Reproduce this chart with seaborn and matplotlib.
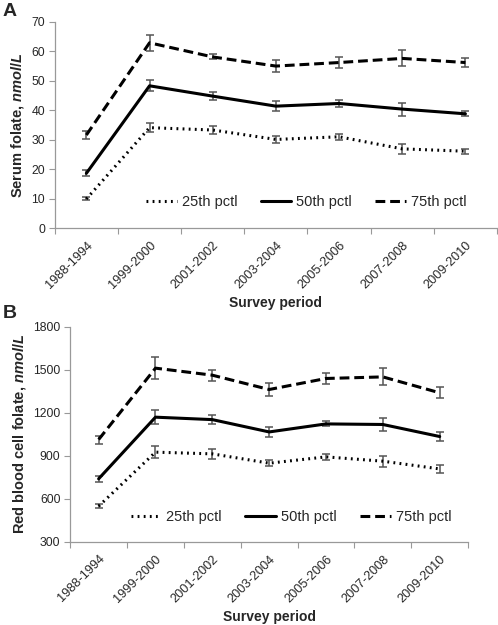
import numpy as np
import pandas as pd
import matplotlib
matplotlib.use("Agg")
import matplotlib.pyplot as plt
import matplotlib.transforms as mtransforms
import seaborn as sns

periods = ["1988-1994", "1999-2000", "2001-2002", "2003-2004", "2005-2006", "2007-2008", "2009-2010"]
series = ["25th pctl", "50th pctl", "75th pctl"]

serum_p25 = [9.9, 34.1, 33.3, 30.1, 31.0, 26.9, 26.1]
serum_p50 = [18.6, 48.3, 44.8, 41.4, 42.3, 40.4, 38.8]
serum_p75 = [31.6, 62.9, 58.1, 55.0, 56.2, 57.6, 56.2]
serum_e25 = [0.5, 1.5, 1.2, 1.3, 1.1, 1.7, 0.8]
serum_e50 = [1.0, 1.9, 1.35, 1.6, 1.3, 2.2, 0.9]
serum_e75 = [1.5, 2.7, 0.85, 1.9, 2.0, 2.7, 1.4]

rbc_p25 = [549, 926, 914, 849, 893, 863, 809]
rbc_p50 = [740, 1170, 1153, 1067, 1123, 1119, 1035]
rbc_p75 = [1014, 1512, 1463, 1363, 1440, 1451, 1340]
rbc_e25 = [12, 40, 34, 22, 19, 38, 27]
rbc_e50 = [20, 49, 33, 35, 17, 48, 33]
rbc_e75 = [28, 75, 38, 42, 38, 60, 38]

sns.set_theme(style="white")
plt.rcParams["font.family"] = ["Liberation Sans", "DejaVu Sans"]
plt.rcParams["mathtext.fontset"] = "custom"
plt.rcParams["mathtext.it"] = "Liberation Sans:italic:bold"
plt.rcParams["mathtext.rm"] = "Liberation Sans:bold"

def make_df(vals, errs):
    rows = []
    for s, v, e in zip(series, vals, errs):
        for p, vi, ei in zip(periods, v, e):
            rows.append({"period": p, "value": vi, "err": ei, "series": s})
    return pd.DataFrame(rows)

dfA = make_df([serum_p25, serum_p50, serum_p75], [serum_e25, serum_e50, serum_e75])
dfB = make_df([rbc_p25, rbc_p50, rbc_p75], [rbc_e25, rbc_e50, rbc_e75])

fig = plt.figure(figsize=(4.98, 6.25), dpi=100)
axA = fig.add_axes([0.110, 0.635, 0.888, 0.330])
axB = fig.add_axes([0.141, 0.133, 0.799, 0.344])

dashes = {"25th pctl": (0.6, 1.4), "50th pctl": "", "75th pctl": (3.2, 1.6)}
palette = {s: "black" for s in series}

def draw(ax, df, ylim, yticks, ylabel, legy, legx, ylabelpad):
    sns.lineplot(data=df, x="period", y="value", hue="series", style="series",
                 dashes=dashes, palette=palette, linewidth=2.2, ax=ax, sort=False,
                 legend=True)
    for s in series:
        d = df[df.series == s]
        ax.errorbar(np.arange(len(periods)), d["value"], yerr=d["err"], fmt="none",
                    ecolor="#555555", elinewidth=1.1, capsize=2.8, capthick=1.1, zorder=1)
    ax.set_xlim(-0.5, len(periods) - 0.5)
    ax.set_ylim(*ylim)
    ax.set_yticks(yticks)
    ax.set_xticks(np.arange(len(periods)))
    ax.set_xticklabels(periods, rotation=45, ha="right", rotation_mode="anchor", fontsize=9.2)
    offset = mtransforms.ScaledTranslation(3 / 100, 0, fig.dpi_scale_trans)
    for lab in ax.get_xticklabels():
        lab.set_transform(lab.get_transform() + offset)
    ax.set_xticks(np.arange(len(periods) + 1) - 0.5, minor=True)
    ax.tick_params(axis="x", which="major", length=0, pad=8)
    ax.tick_params(axis="x", which="minor", length=4, width=0.8, color="#999999", bottom=True)
    ax.tick_params(axis="y", length=4, width=0.8, color="#999999", left=True, labelsize=8.8, pad=3)
    for sp in ["top", "right"]:
        ax.spines[sp].set_visible(False)
    for sp in ["left", "bottom"]:
        ax.spines[sp].set_color("#999999")
        ax.spines[sp].set_linewidth(0.9)
    ax.set_xlabel("Survey period", fontsize=10, fontweight="bold", labelpad=3.5)
    ax.set_ylabel(ylabel, fontsize=10.5, fontweight="bold", labelpad=ylabelpad)
    leg = ax.legend(loc="center", bbox_to_anchor=(legx, legy), ncol=3, frameon=False,
                    fontsize=10.5, handlelength=2.1, columnspacing=1.6, handletextpad=0.35,
                    title=None)
    for h in leg.get_lines():
        h.set_linewidth(2.2)

draw(axA, dfA, (0, 70), range(0, 71, 10), r"Serum folate, $nmol/L$", 0.126, 0.569, 4)
draw(axB, dfB, (300, 1800), range(300, 1801, 300), r"Red blood cell folate, $nmol/L$", 0.116, 0.555, 4)

fig.text(0.006, 0.982, "A", fontsize=14, fontweight="bold", va="center", ha="left")
fig.text(0.006, 0.498, "B", fontsize=14, fontweight="bold", va="center", ha="left")

fig.savefig("out.png", dpi=100)
